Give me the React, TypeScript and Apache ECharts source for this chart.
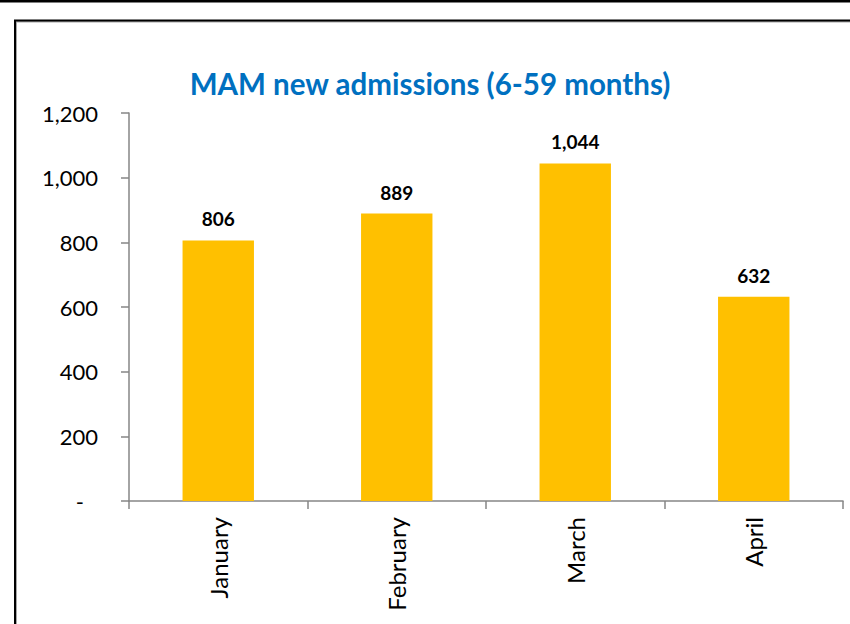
import React, { useEffect, useRef } from "react";
import * as echarts from "echarts";

const categories = ["January", "February", "March", "April"];
const admissions = [806, 889, 1044, 632];
const yTicks = [0, 200, 400, 600, 800, 1000, 1200];
const titleText = "MAM new admissions (6-59 months)";

export default function App() {
  const ref = useRef<HTMLDivElement>(null);
  useEffect(() => {
    if (!ref.current) return;
    const chart = echarts.init(ref.current, null, { renderer: "svg" });
    chart.setOption({
      animation: false,
      backgroundColor: "#ffffff",
      graphic: [
        {
          type: "line",
          shape: { x1: 0, y1: 1, x2: 850, y2: 1 },
          style: { stroke: "#000000", lineWidth: 3 },
        },
        {
          type: "rect",
          shape: { x: 15, y: 20.5, width: 900, height: 700 },
          style: { fill: "none", stroke: "#000000", lineWidth: 2, shadowColor: "rgba(0,0,0,0.35)", shadowOffsetX: 1, shadowOffsetY: 1, shadowBlur: 1 },
        },
        {
          type: "text",
          x: 430,
          y: 83,
          style: {
            text: titleText,
            fill: "#0070C0",
            font: "bold 29.5px Lato",
            textAlign: "center",
            textVerticalAlign: "middle",
          },
        },
      ],
      grid: { left: 129, right: 7, top: 113, bottom: 123 },
      xAxis: {
        type: "category",
        data: categories,
        axisLine: { show: true, lineStyle: { color: "#868686", width: 1.5 } },
        axisTick: { show: true, length: 8, lineStyle: { color: "#868686", width: 1.5 } },
        axisLabel: {
          rotate: 90,
          margin: 16,
          color: "#000000",
          fontSize: 24,
          fontFamily: "Lato",
        },
      },
      yAxis: {
        type: "value",
        min: yTicks[0],
        max: yTicks[yTicks.length - 1],
        interval: 200,
        splitLine: { show: false },
        axisLine: { show: true, lineStyle: { color: "#868686", width: 1.5 } },
        axisTick: { show: true, length: 8, lineStyle: { color: "#868686", width: 1.5 } },
        axisLabel: {
          margin: 31,
          color: "#000000",
          fontSize: 22,
          fontFamily: "Lato",
          formatter: (v: number) => (v === 0 ? "{d|-}{s| }" : v.toLocaleString("en-US")),
          rich: {
            d: { fontSize: 22, fontFamily: "Lato", color: "#000000" },
            s: { fontSize: 22, width: 14 },
          },
        },
      },
      series: [
        {
          type: "bar",
          data: admissions,
          barWidth: "40%",
          itemStyle: { color: "#FFC000" },
          label: {
            show: true,
            position: "top",
            distance: 12,
            color: "#000000",
            fontSize: 19,
            fontWeight: "bold",
            fontFamily: "Lato",
            formatter: (p: any) => Number(p.value).toLocaleString("en-US"),
          },
        },
      ],
    });
    return () => chart.dispose();
  }, []);
  return (
    <div
      ref={ref}
      style={{ position: "fixed", left: 0, top: 0, width: 850, height: 624 }}
    />
  );
}
